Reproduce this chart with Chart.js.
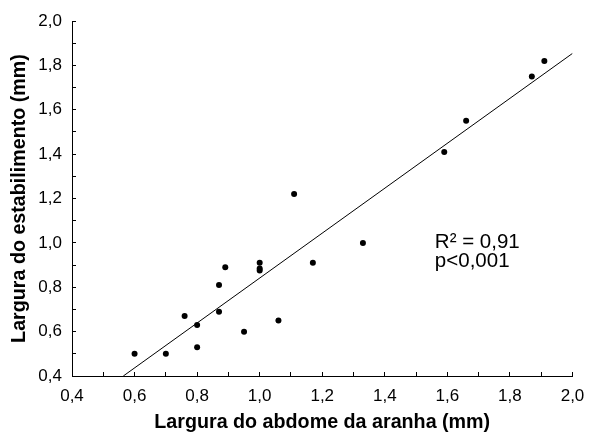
<!DOCTYPE html>
<html>
<head>
<meta charset="utf-8">
<script src="https://cdn.jsdelivr.net/npm/chart.js@4.4.1/dist/chart.umd.min.js"></script>
<style>
  html, body { margin: 0; padding: 0; background: #fff; }
  #wrap { width: 589px; height: 434px; }
</style>
</head>
<body>
<div id="wrap"><canvas id="chart"></canvas></div>
<script>
// spider abdomen width vs stabilimentum width (mm)
const abdomen = [0.60, 0.70, 0.76, 0.80, 0.80, 0.87, 0.87, 0.89, 0.95, 1.00, 1.00, 1.00, 1.06, 1.11, 1.17, 1.33, 1.59, 1.66, 1.87, 1.91];
const stabil  = [0.50, 0.50, 0.67, 0.63, 0.53, 0.81, 0.69, 0.89, 0.60, 0.91, 0.885, 0.875, 0.65, 1.22, 0.91, 1.00, 1.41, 1.55, 1.75, 1.82];

// regression line end points
const fitX = [0.564, 2.0];
const fitY = [0.40, 1.854];

const statText = ["R\u00B2 = 0,91", "p<0,001"];
const xTitle = "Largura do abdome da aranha (mm)";
const yTitle = "Largura do estabilimento (mm)";

const FONT = "'Liberation Sans', Arial, Helvetica, sans-serif";
Chart.defaults.font.family = FONT;
Chart.defaults.color = "#000";

const points = abdomen.map((x, i) => ({ x: x, y: stabil[i] }));
const line = fitX.map((x, i) => ({ x: x, y: fitY[i] }));

const fmt = v => {
  const t = Math.round(v * 10);
  return t % 2 === 0 ? (t / 10).toFixed(1).replace(".", ",") : "";
};

// R² / p text, placed in data units (alphabetic baseline)
const statsLabel = {
  id: "statsLabel",
  afterDatasetsDraw(chart) {
    const { ctx, scales } = chart;
    const x = scales.x.getPixelForValue(1.56);
    ctx.save();
    ctx.fillStyle = "#000";
    ctx.font = "20.5px " + FONT;
    ctx.textAlign = "left";
    ctx.textBaseline = "alphabetic";
    ctx.fillText(statText[0], x, scales.y.getPixelForValue(0.977));
    ctx.fillText(statText[1], x, scales.y.getPixelForValue(0.891));
    ctx.restore();
  }
};

const axisCommon = {
  type: "linear",
  min: 0.4,
  max: 2.0,
  border: { display: true, color: "#000", width: 1 },
  grid: { drawOnChartArea: false, drawTicks: true, tickLength: -4, color: "#000", tickColor: "#000" }
};

new Chart(document.getElementById("chart"), {
  type: "scatter",
  data: {
    datasets: [
      {
        data: points,
        backgroundColor: "#000",
        borderWidth: 0,
        pointRadius: 3,
        pointHoverRadius: 3
      },
      {
        type: "line",
        data: line,
        borderColor: "#000",
        borderWidth: 1,
        pointRadius: 0,
        fill: false,
        tension: 0
      }
    ]
  },
  options: {
    responsive: true,
    maintainAspectRatio: false,
    animation: false,
    layout: { padding: { left: 0, right: 16.5, top: 21, bottom: 0 } },
    plugins: { legend: { display: false }, tooltip: { enabled: false } },
    scales: {
      x: {
        ...axisCommon,
        position: "bottom",
        ticks: { stepSize: 0.1, autoSkip: false, maxRotation: 0, padding: 14.5, font: { size: 17 }, callback: fmt },
        title: { display: true, text: xTitle, font: { size: 19.7, weight: "bold" }, padding: { top: 0, bottom: 0 } },
        afterFit: s => { s.height = 58; s.paddingLeft = 0; s.paddingRight = 0; }
      },
      y: {
        ...axisCommon,
        position: "left",
        ticks: { stepSize: 0.1, autoSkip: false, padding: 14, font: { size: 17 }, callback: fmt },
        title: { display: true, text: yTitle, font: { size: 19.7, weight: "bold" }, padding: { top: 8, bottom: 0 } },
        afterFit: s => { s.width = 72; s.paddingTop = 0; s.paddingBottom = 0; }
      }
    }
  },
  plugins: [statsLabel]
});
</script>
</body>
</html>
